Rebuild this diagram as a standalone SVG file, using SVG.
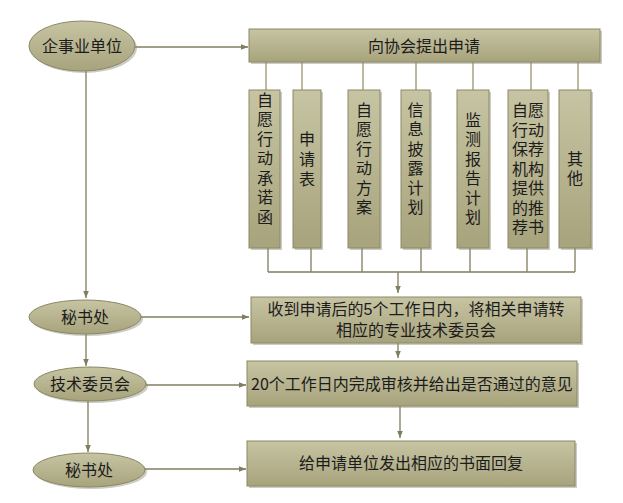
<svg xmlns="http://www.w3.org/2000/svg" width="623" height="503" viewBox="0 0 623 503">
<style>
.bx{fill:url(#g);stroke:#8b8866;stroke-width:1}
.sh{fill:#8f8d7c;opacity:0.45}
.t{font-family:"Noto Sans CJK SC","Noto Sans",sans-serif;font-size:16px;fill:#1c1c1c;text-anchor:middle}
.m{font-family:"Liberation Sans","Noto Sans CJK SC",sans-serif}
.v{writing-mode:vertical-rl;letter-spacing:3.5px}
.ln{fill:none;stroke:#807d60;stroke-width:1.3}
.lt{fill:none;stroke:#bdb9a0;stroke-width:2}
.ar{fill:none;stroke:#807d60;stroke-width:1.3;marker-end:url(#ah)}
</style>
<defs>
<linearGradient id="g" x1="0" y1="0" x2="0" y2="1">
<stop offset="0" stop-color="#c7c4a3"/>
<stop offset="1" stop-color="#a7a37c"/>
</linearGradient>
<marker id="ah" viewBox="0 0 10 10" refX="10" refY="5" markerWidth="7" markerHeight="7" markerUnits="userSpaceOnUse" orient="auto">
<path d="M0,1 L10,5 L0,9 Z" fill="#807d60"/>
</marker>
</defs>
<rect width="623" height="503" fill="#ffffff"/>
<g id="connectors">
<path class="ar" d="M135,47 H248"/>
<path class="ar" d="M86,71 V298"/>
<path class="ar" d="M86,334 V366"/>
<path class="ar" d="M88,401 V452"/>
<path class="ar" d="M141,317 H249"/>
<path class="ar" d="M145,385 H246"/>
<path class="ar" d="M145,469 H246"/>
<path class="lt" d="M266,62 V90 M302,62 V90 M363,62 V90 M416,62 V90 M473,62 V90 M531,62 V90 M578,62 V90"/>
<path class="ln" d="M268,248 V272 M311,248 V272 M362,248 V272 M421,248 V272 M470,248 V272 M527,248 V272 M575,248 V272 M268,272 H575"/>
<path class="ar" d="M398,272 V293"/>
<path class="ar" d="M398,343 V358"/>
<path class="ar" d="M400,406 V438"/>
</g>
<g id="n-qishiye">
<ellipse class="sh" cx="84" cy="48" rx="53" ry="25"/>
<ellipse class="bx" cx="82" cy="46" rx="53" ry="25"/>
<text class="t" x="82" y="52">企事业单位</text>
</g>
<g id="n-mishu1">
<ellipse class="sh" cx="87" cy="319" rx="56" ry="17"/>
<ellipse class="bx" cx="85" cy="317" rx="56" ry="17"/>
<text class="t" x="85" y="323">秘书处</text>
</g>
<g id="n-jishu">
<ellipse class="sh" cx="92" cy="386" rx="56" ry="17"/>
<ellipse class="bx" cx="90" cy="384" rx="56" ry="17"/>
<text class="t" x="90" y="390">技术委员会</text>
</g>
<g id="n-mishu2">
<ellipse class="sh" cx="91" cy="472" rx="56" ry="17"/>
<ellipse class="bx" cx="89" cy="470" rx="56" ry="17"/>
<text class="t" x="89" y="476">秘书处</text>
</g>
<g id="n-apply">
<rect class="sh" x="251" y="31" width="351" height="33"/>
<rect class="bx" x="249" y="29" width="351" height="33"/>
<text class="t" x="424" y="52">向协会提出申请</text>
</g>
<g id="n-b1">
<rect class="sh" x="251" y="92" width="31" height="158"/>
<rect class="bx" x="249" y="90" width="31" height="158"/>
<text class="t v" x="265" y="160">自愿行动承诺函</text>
</g>
<g id="n-b2">
<rect class="sh" x="295" y="92" width="28" height="158"/>
<rect class="bx" x="293" y="90" width="28" height="158"/>
<text class="t v" x="307" y="161" style="letter-spacing:4px">申请表</text>
</g>
<g id="n-b3">
<rect class="sh" x="350" y="92" width="32" height="158"/>
<rect class="bx" x="348" y="90" width="32" height="158"/>
<text class="t v" x="364" y="160">自愿行动方案</text>
</g>
<g id="n-b4">
<rect class="sh" x="403" y="92" width="29" height="158"/>
<rect class="bx" x="401" y="90" width="29" height="158"/>
<text class="t v" x="415.5" y="160">信息披露计划</text>
</g>
<g id="n-b5">
<rect class="sh" x="459" y="92" width="32" height="158"/>
<rect class="bx" x="457" y="90" width="32" height="158"/>
<text class="t v" x="473" y="170">监测报告计划</text>
</g>
<g id="n-b6">
<rect class="sh" x="510" y="92" width="40" height="158"/>
<rect class="bx" x="508" y="90" width="40" height="158"/>
<text class="t m"><tspan x="528" y="116">自愿</tspan><tspan x="528" y="135.5">行动</tspan><tspan x="528" y="155">保荐</tspan><tspan x="528" y="174.5">机构</tspan><tspan x="528" y="194">提供</tspan><tspan x="528" y="213.5">的推</tspan><tspan x="528" y="233">荐书</tspan></text>
</g>
<g id="n-b7">
<rect class="sh" x="561" y="92" width="32" height="158"/>
<rect class="bx" x="559" y="90" width="32" height="158"/>
<text class="t v" x="575" y="170">其他</text>
</g>
<g id="n-receive">
<rect class="sh" x="253" y="299" width="330" height="46"/>
<rect class="bx" x="251" y="297" width="330" height="46"/>
<text class="t m"><tspan x="416" y="315">收到申请后的5个工作日内，将相关申请转</tspan><tspan x="416" y="336">相应的专业技术委员会</tspan></text>
</g>
<g id="n-review">
<rect class="sh" x="249" y="363" width="330" height="45"/>
<rect class="bx" x="247" y="361" width="330" height="45"/>
<text class="t" x="412" y="390">20个工作日内完成审核并给出是否通过的意见</text>
</g>
<g id="n-reply">
<rect class="sh" x="249" y="443" width="328" height="45"/>
<rect class="bx" x="247" y="441" width="328" height="45"/>
<text class="t" x="411" y="469">给申请单位发出相应的书面回复</text>
</g>
</svg>
